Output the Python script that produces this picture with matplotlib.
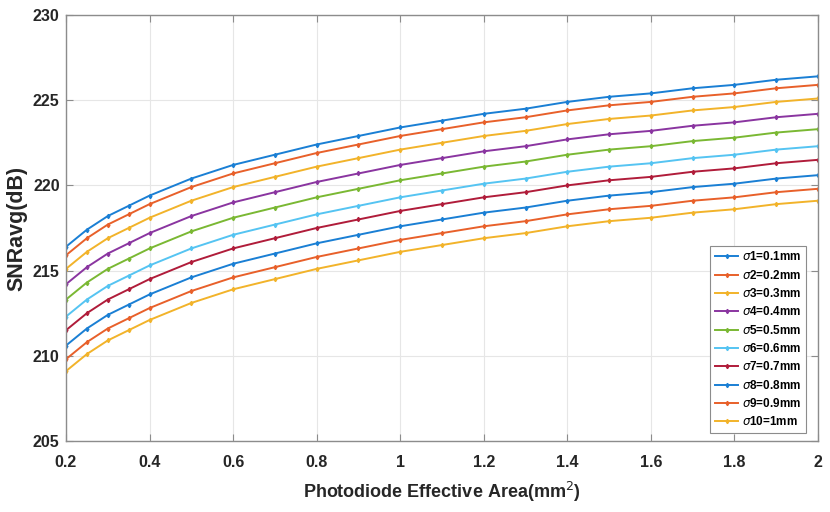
import matplotlib
matplotlib.use('Agg')
import matplotlib.pyplot as plt

plt.rcParams['font.family'] = ['Liberation Sans', 'DejaVu Sans']
plt.rcParams['mathtext.fontset'] = 'dejavusans'

area = [0.2, 0.25, 0.3, 0.35, 0.4, 0.5, 0.6, 0.7, 0.8, 0.9, 1.0,
        1.1, 1.2, 1.3, 1.4, 1.5, 1.6, 1.7, 1.8, 1.9, 2.0]

snr_s1 = [216.4, 217.4, 218.2, 218.8, 219.4, 220.4, 221.2, 221.8, 222.4, 222.9, 223.4,
          223.8, 224.2, 224.5, 224.9, 225.2, 225.4, 225.7, 225.9, 226.2, 226.4]
snr_s2 = [215.9, 216.9, 217.7, 218.3, 218.9, 219.9, 220.7, 221.3, 221.9, 222.4, 222.9,
          223.3, 223.7, 224.0, 224.4, 224.7, 224.9, 225.2, 225.4, 225.7, 225.9]
snr_s3 = [215.1, 216.1, 216.9, 217.5, 218.1, 219.1, 219.9, 220.5, 221.1, 221.6, 222.1,
          222.5, 222.9, 223.2, 223.6, 223.9, 224.1, 224.4, 224.6, 224.9, 225.1]
snr_s4 = [214.2, 215.2, 216.0, 216.6, 217.2, 218.2, 219.0, 219.6, 220.2, 220.7, 221.2,
          221.6, 222.0, 222.3, 222.7, 223.0, 223.2, 223.5, 223.7, 224.0, 224.2]
snr_s5 = [213.3, 214.3, 215.1, 215.7, 216.3, 217.3, 218.1, 218.7, 219.3, 219.8, 220.3,
          220.7, 221.1, 221.4, 221.8, 222.1, 222.3, 222.6, 222.8, 223.1, 223.3]
snr_s6 = [212.3, 213.3, 214.1, 214.7, 215.3, 216.3, 217.1, 217.7, 218.3, 218.8, 219.3,
          219.7, 220.1, 220.4, 220.8, 221.1, 221.3, 221.6, 221.8, 222.1, 222.3]
snr_s7 = [211.5, 212.5, 213.3, 213.9, 214.5, 215.5, 216.3, 216.9, 217.5, 218.0, 218.5,
          218.9, 219.3, 219.6, 220.0, 220.3, 220.5, 220.8, 221.0, 221.3, 221.5]
snr_s8 = [210.6, 211.6, 212.4, 213.0, 213.6, 214.6, 215.4, 216.0, 216.6, 217.1, 217.6,
          218.0, 218.4, 218.7, 219.1, 219.4, 219.6, 219.9, 220.1, 220.4, 220.6]
snr_s9 = [209.8, 210.8, 211.6, 212.2, 212.8, 213.8, 214.6, 215.2, 215.8, 216.3, 216.8,
          217.2, 217.6, 217.9, 218.3, 218.6, 218.8, 219.1, 219.3, 219.6, 219.8]
snr_s10 = [209.1, 210.1, 210.9, 211.5, 212.1, 213.1, 213.9, 214.5, 215.1, 215.6, 216.1,
           216.5, 216.9, 217.2, 217.6, 217.9, 218.1, 218.4, 218.6, 218.9, 219.1]

labels = [r'$\sigma$1=0.1mm', r'$\sigma$2=0.2mm', r'$\sigma$3=0.3mm', r'$\sigma$4=0.4mm',
          r'$\sigma$5=0.5mm', r'$\sigma$6=0.6mm', r'$\sigma$7=0.7mm', r'$\sigma$8=0.8mm',
          r'$\sigma$9=0.9mm', r'$\sigma$10=1mm']
series = [snr_s1, snr_s2, snr_s3, snr_s4, snr_s5, snr_s6, snr_s7, snr_s8, snr_s9, snr_s10]
colors = ['#1a7fd4', '#e8602a', '#f2b32a', '#8a35a0', '#7ab833',
          '#55c4f2', '#b01c3a', '#1a7fd4', '#e8602a', '#f2b32a']

xticks = [0.2, 0.4, 0.6, 0.8, 1.0, 1.2, 1.4, 1.6, 1.8, 2.0]
xtick_labels = ['0.2', '0.4', '0.6', '0.8', '1', '1.2', '1.4', '1.6', '1.8', '2']
yticks = [205, 210, 215, 220, 225, 230]

fig = plt.figure(figsize=(8.3, 5.12), dpi=100)
ax = fig.add_axes([0.0795, 0.1387, 0.906, 0.832])

for y, lab, c in zip(series, labels, colors):
    ax.plot(area, y, color=c, lw=1.4, marker='d', ms=2.2, label=lab)

ax.set_xlim(0.2, 2.0)
ax.set_ylim(205, 230)
ax.set_xticks(xticks)
ax.set_xticklabels(xtick_labels)
ax.set_yticks(yticks)
ax.grid(True, color='#e6e6e6', lw=0.8)
ax.set_axisbelow(True)

for s in ax.spines.values():
    s.set_color('#8c8c8c')
    s.set_linewidth(1.0)
ax.tick_params(direction='in', top=True, right=True, length=5, color='#8c8c8c',
               labelsize=11.5, labelcolor='#262626')
ax.tick_params(axis='x', pad=10)
ax.tick_params(axis='y', pad=4.5)
for t in ax.get_xticklabels() + ax.get_yticklabels():
    t.set_fontweight('bold')

ax.set_xlabel('Photodiode Effective Area(mm$^2$)', fontsize=13, fontweight='bold',
              color='#262626', labelpad=7)
ax.set_ylabel('SNRavg(dB)', fontsize=15.5, fontweight='bold', color='#262626', labelpad=4)

leg = ax.legend(loc='lower right', bbox_to_anchor=(806 / 830, 1 - 433 / 512),
                bbox_transform=fig.transFigure, borderaxespad=0,
                prop={'weight': 'bold', 'size': 8.5},
                frameon=True, fancybox=False, edgecolor='#8c8c8c', framealpha=1,
                handlelength=2.0, labelspacing=0.45, borderpad=0.4, handletextpad=0.3)
leg.get_frame().set_linewidth(0.8)

plt.savefig('out.png', dpi=100)
